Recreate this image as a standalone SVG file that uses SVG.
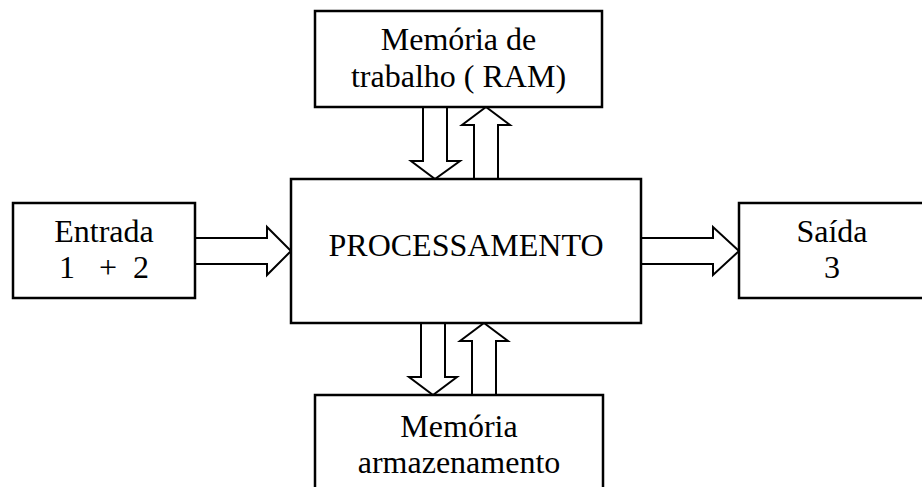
<svg xmlns="http://www.w3.org/2000/svg" width="922" height="487" viewBox="0 0 922 487">
<style>
.box{fill:#fff;stroke:#000;stroke-width:2.5}
.arr{fill:#fff;stroke:#000;stroke-width:2;stroke-linejoin:miter}
text{font-family:"Liberation Serif","Times New Roman",serif;font-size:32px;fill:#000;text-anchor:middle}
</style>
<rect width="922" height="487" fill="#fff"/>
<g id="connectors">
<polygon class="arr" points="195,238 267,238 267,227 291,251 267,275 267,264 195,264"/>
<polygon class="arr" points="641,238 713,238 713,227 739,251 713,275 713,264 641,264"/>
<polygon class="arr" points="423,107 447,107 447,161 460,161 435,179 411,161 423,161"/>
<polygon class="arr" points="474,179 474,125 462,125 486,107 510,125 498,125 498,179"/>
<polygon class="arr" points="421,323 445,323 445,377 457,377 433,395 409,377 421,377"/>
<polygon class="arr" points="472,395 472,341 460,341 484,323 508,341 496,341 496,395"/>
</g>
<g id="ram">
<rect class="box" x="315" y="11" width="287" height="96"/>
<text x="458.5" y="50">Memória de</text>
<text x="458.5" y="87">trabalho ( RAM)</text>
</g>
<g id="entrada">
<rect class="box" x="13" y="203" width="182" height="95"/>
<text x="104" y="242">Entrada</text>
<text x="104" y="278" xml:space="preserve" style="white-space:pre">1   +  2</text>
</g>
<g id="processamento">
<rect class="box" x="291" y="179" width="350" height="144"/>
<text x="466" y="256">PROCESSAMENTO</text>
</g>
<g id="saida">
<rect class="box" x="739" y="203" width="200" height="95"/>
<text x="832" y="242">Saída</text>
<text x="832" y="278">3</text>
</g>
<g id="armazenamento">
<rect class="box" x="315" y="395" width="288" height="110"/>
<text x="459" y="437">Memória</text>
<text x="459" y="473">armazenamento</text>
</g>
</svg>
